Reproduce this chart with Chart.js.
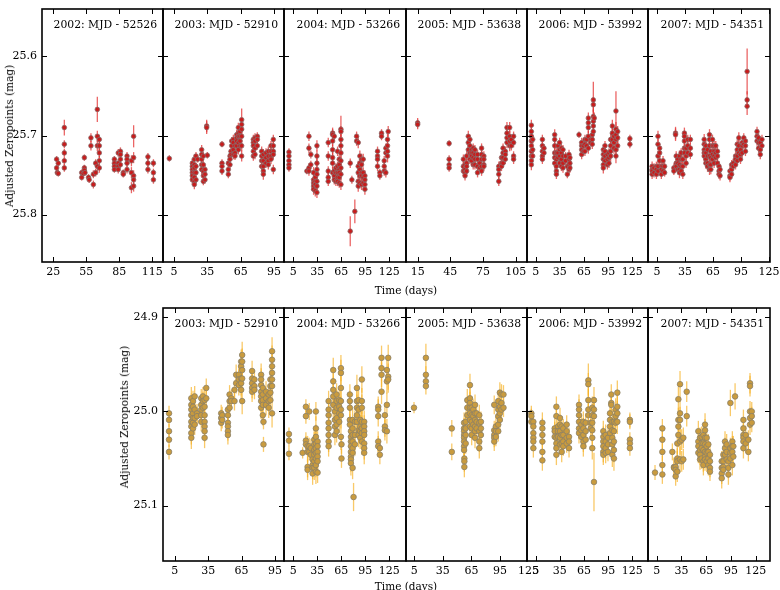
<!DOCTYPE html>
<html>
<head>
<meta charset="utf-8">
<script src="https://cdn.jsdelivr.net/npm/chart.js@4.4.0/dist/chart.umd.min.js"></script>
<style>
  body { margin: 0; background: #fff; }
  #page { position: relative; width: 780px; height: 590px; overflow: hidden; font-family: 'DejaVu Serif', serif; }
  #page canvas { position: absolute; }
  .axis-title { position: absolute; font-size: 10.5px; color: #000; white-space: nowrap; }
</style>
</head>
<body>
<div id="page"></div>
<script>
// each row: [day, error, zeropoint, zeropoint, ...] -- one night of frames
const top2002 = [
  [28, .004, 25.730, 25.741], [28.6, .004, 25.747], [29.5, .004, 25.735, 25.748],
  [35, .005, 25.711, 25.722, 25.732, 25.741], [35, .010, 25.690],
  [50.8, .004, 25.747, 25.753], [52.3, .004, 25.748], [53.2, .004, 25.728, 25.741, 25.744], [53.8, .004, 25.747],
  [57, .004, 25.753], [57.6, .004, 25.756], [59.2, .006, 25.703, 25.713], [61.4, .005, 25.749, 25.762],
  [63.5, .005, 25.735, 25.747], [65, .016, 25.667], [65, .007, 25.701, 25.713, 25.739],
  [66.8, .006, 25.705, 25.713, 25.722, 25.732, 25.741],
  [80.5, .004, 25.730, 25.735, 25.739, 25.743], [84, .005, 25.722, 25.735, 25.739, 25.743],
  [86, .005, 25.720, 25.724, 25.730, 25.737], [88.6, .004, 25.747, 25.749],
  [92, .005, 25.726, 25.730, 25.735, 25.743], [96, .007, 25.732, 25.747, 25.766],
  [98, .014, 25.701], [98, .007, 25.728, 25.751, 25.756, 25.764],
  [111, .005, 25.727, 25.735, 25.743], [116, .005, 25.735, 25.747, 25.756]
];
const top2003 = [
  [0.8, .004, 25.729],
  [21.5, .006, 25.735, 25.739, 25.743, 25.747, 25.751, 25.756],
  [23.3, .006, 25.730, 25.737, 25.741, 25.747, 25.753, 25.758, 25.762],
  [24.8, .005, 25.726, 25.739, 25.747, 25.756], [26.3, .004, 25.730],
  [29.9, .006, 25.718, 25.724, 25.730, 25.737, 25.743],
  [31.4, .005, 25.726, 25.737, 25.745, 25.751, 25.758],
  [32.9, .005, 25.743, 25.749, 25.756], [34.4, .008, 25.688, 25.690], [35, .004, 25.725],
  [48.2, .004, 25.711], [48.2, .005, 25.735, 25.739, 25.745],
  [53.9, .005, 25.735, 25.743, 25.749], [55.4, .005, 25.726, 25.730, 25.737], [56.3, .005, 25.720, 25.724],
  [56.9, .005, 25.707, 25.713], [58.4, .006, 25.705, 25.709, 25.718, 25.724], [59.9, .005, 25.713, 25.722, 25.726],
  [61.4, .006, 25.699, 25.703, 25.707, 25.713], [62.9, .006, 25.690, 25.697, 25.701, 25.709, 25.718],
  [64.4, .006, 25.695, 25.701, 25.707, 25.713], [65.9, .014, 25.680],
  [65.9, .007, 25.686, 25.692, 25.701, 25.713, 25.726],
  [76.4, .006, 25.705, 25.709, 25.713, 25.720, 25.726], [77.9, .006, 25.703, 25.707, 25.716, 25.724],
  [80, .005, 25.701, 25.705, 25.713],
  [83.9, .006, 25.720, 25.726, 25.732, 25.739], [85.4, .007, 25.724, 25.732, 25.739, 25.745, 25.749],
  [87.8, .006, 25.722, 25.728, 25.735], [89.9, .006, 25.720, 25.726, 25.732, 25.737],
  [92.3, .006, 25.713, 25.720, 25.726, 25.730], [94.4, .006, 25.705, 25.713, 25.720, 25.724, 25.743]
];
const top2004 = [
  [-0.4, .005, 25.721, 25.726, 25.732, 25.737, 25.741],
  [22, .004, 25.745], [24.6, .006, 25.701, 25.716, 25.741, 25.745], [27, .005, 25.724, 25.737],
  [30.4, .007, 25.747, 25.756, 25.760, 25.764, 25.768], [32.5, .007, 25.753, 25.758, 25.762, 25.770],
  [34.6, .007, 25.713, 25.726, 25.735, 25.743, 25.749, 25.758, 25.764, 25.772],
  [48.75, .006, 25.709, 25.726, 25.745, 25.753, 25.758],
  [54.2, .007, 25.697, 25.699, 25.707, 25.718, 25.728, 25.735, 25.747],
  [56.25, .006, 25.701, 25.745, 25.751, 25.756], [58.3, .006, 25.741, 25.747, 25.758],
  [60.4, .006, 25.720, 25.739, 25.747, 25.753, 25.758],
  [62.5, .006, 25.730, 25.737, 25.743, 25.747, 25.753, 25.760],
  [64.6, .017, 25.692], [64.6, .007, 25.695, 25.705, 25.713, 25.722, 25.732, 25.741, 25.749, 25.762],
  [76.25, .006, 25.735], [76.25, .019, 25.821], [78.3, .005, 25.756], [82, .015, 25.796],
  [84.2, .006, 25.701, 25.707], [86.25, .007, 25.709, 25.739, 25.747, 25.758, 25.764],
  [88.3, .007, 25.726, 25.735, 25.743, 25.751, 25.760], [90.4, .007, 25.730, 25.737, 25.747, 25.751, 25.762],
  [92.5, .007, 25.730, 25.747, 25.753, 25.760], [94.6, .007, 25.751, 25.756, 25.762, 25.768],
  [110.4, .006, 25.720, 25.726, 25.730, 25.739], [113.3, .005, 25.747, 25.751], [115.4, .005, 25.697, 25.701],
  [118.75, .006, 25.732, 25.739, 25.745], [120.8, .006, 25.716, 25.722, 25.747],
  [122.9, .008, 25.705, 25.713, 25.720, 25.726], [123.75, .007, 25.695]
];
const top2005 = [
  [15, .006, 25.684, 25.686], [43.9, .004, 25.710], [43.9, .005, 25.730, 25.737, 25.741],
  [57, .006, 25.730, 25.739, 25.745], [58.5, .006, 25.737, 25.743, 25.747, 25.751],
  [60, .006, 25.726, 25.735, 25.739, 25.745], [61.5, .007, 25.701, 25.709, 25.718],
  [63, .006, 25.705, 25.713, 25.722, 25.730], [64.5, .006, 25.718, 25.722, 25.726, 25.732],
  [66, .006, 25.716, 25.722, 25.728, 25.737], [67.6, .006, 25.718, 25.724, 25.730, 25.737],
  [70, .006, 25.724, 25.730, 25.739, 25.747], [72, .005, 25.735, 25.741],
  [73.7, .006, 25.716, 25.724, 25.730, 25.739, 25.745], [75.8, .006, 25.726, 25.730, 25.737, 25.739],
  [89.5, .006, 25.739, 25.743, 25.749, 25.758], [92, .006, 25.728, 25.735, 25.739],
  [93.4, .006, 25.716, 25.722, 25.728, 25.735], [95.5, .006, 25.720, 25.724, 25.730],
  [97, .007, 25.690, 25.697, 25.703, 25.709], [99.5, .007, 25.690, 25.701, 25.707, 25.713],
  [101, .006, 25.705, 25.713], [103.1, .006, 25.701, 25.709, 25.726, 25.730]
];
const top2006 = [
  [-0.4, .007, 25.687, 25.695, 25.701, 25.707, 25.713, 25.720, 25.726, 25.732, 25.737],
  [1.3, .006, 25.705, 25.718, 25.726],
  [13.3, .006, 25.705, 25.713, 25.720, 25.726, 25.730], [15.3, .005, 25.716, 25.722],
  [28.6, .007, 25.699, 25.705, 25.713, 25.722, 25.728, 25.735], [30.7, .006, 25.722, 25.730, 25.739, 25.745, 25.749],
  [32.7, .006, 25.713, 25.722, 25.728], [34.8, .006, 25.709, 25.718, 25.726, 25.735],
  [36.9, .006, 25.716, 25.722, 25.730, 25.739], [38.9, .006, 25.718, 25.726, 25.735, 25.741],
  [42.2, .005, 25.726, 25.732], [44.3, .005, 25.739, 25.749], [46.4, .006, 25.724, 25.730, 25.737, 25.743],
  [47.5, .006, 25.728, 25.735, 25.741],
  [58.8, .004, 25.699], [62.1, .006, 25.709, 25.713, 25.718, 25.724], [64.2, .005, 25.713, 25.720],
  [66.2, .006, 25.705, 25.711, 25.720], [68.3, .005, 25.705, 25.713],
  [70.4, .007, 25.678, 25.684, 25.690, 25.701, 25.716], [73.3, .005, 25.705, 25.709],
  [75.3, .006, 25.699, 25.705, 25.711], [76.6, .023, 25.655],
  [76.6, .009, 25.661, 25.676, 25.682, 25.688, 25.695], [77.8, .007, 25.678],
  [89, .007, 25.718, 25.724, 25.730, 25.737, 25.741], [91.1, .006, 25.713, 25.720, 25.726, 25.732],
  [94, .006, 25.724, 25.730, 25.737], [96, .006, 25.722, 25.728, 25.735],
  [98.1, .007, 25.705, 25.713, 25.720, 25.726], [100.2, .008, 25.688, 25.697, 25.705],
  [102.2, .007, 25.701, 25.709, 25.716], [104.7, .025, 25.669],
  [104.7, .009, 25.692, 25.699, 25.705, 25.718, 25.726], [106.8, .007, 25.695, 25.703, 25.713],
  [122, .005, 25.704, 25.711]
];
const top2007 = [
  [-0.3, .006, 25.739, 25.743, 25.745, 25.749], [1.8, .006, 25.741, 25.747], [4.3, .006, 25.739, 25.743, 25.749],
  [6, .007, 25.701, 25.711, 25.726, 25.739, 25.745], [7.8, .006, 25.716, 25.722, 25.732],
  [9.6, .006, 25.739, 25.743, 25.749], [11.4, .006, 25.732, 25.739, 25.745], [13.1, .005, 25.739, 25.747],
  [23, .005, 25.741, 25.745], [24.8, .008, 25.697, 25.699], [25.5, .006, 25.726, 25.735, 25.739],
  [27.3, .006, 25.730, 25.735, 25.743], [29, .007, 25.726, 25.737, 25.743, 25.747],
  [30.8, .006, 25.722, 25.730, 25.739, 25.745], [32.6, .006, 25.730, 25.739, 25.749],
  [34.3, .007, 25.697, 25.701, 25.707, 25.716, 25.722], [36.1, .006, 25.716, 25.726, 25.735],
  [37.9, .006, 25.705, 25.713, 25.722], [40.7, .006, 25.705, 25.716, 25.724],
  [55.5, .007, 25.705, 25.711, 25.718, 25.722, 25.726], [57.3, .007, 25.713, 25.722, 25.730, 25.735],
  [59.1, .007, 25.718, 25.726, 25.735, 25.739], [61.2, .007, 25.699, 25.705, 25.713, 25.726, 25.737, 25.743],
  [62.6, .006, 25.720, 25.728, 25.737, 25.743], [64.4, .006, 25.705, 25.713, 25.724, 25.730],
  [66.1, .006, 25.713, 25.720, 25.726, 25.735], [67.9, .006, 25.713, 25.722, 25.728],
  [69.7, .006, 25.720, 25.726, 25.735], [71.4, .006, 25.739, 25.745, 25.749], [72.5, .006, 25.743, 25.751],
  [83.1, .006, 25.745, 25.751, 25.753], [84.9, .006, 25.737, 25.743, 25.749], [86.6, .006, 25.735, 25.739],
  [89.1, .006, 25.726, 25.730, 25.737], [90.9, .006, 25.711, 25.718, 25.726, 25.732],
  [92.6, .007, 25.703, 25.713, 25.722], [94.4, .006, 25.718, 25.724, 25.730],
  [96.2, .006, 25.709, 25.713, 25.722], [97.9, .006, 25.703, 25.711], [99.7, .006, 25.707, 25.713, 25.720],
  [101.5, .029, 25.619], [101.5, .011, 25.655, 25.663],
  [112.1, .006, 25.695, 25.701, 25.707], [113.8, .006, 25.703, 25.709, 25.716],
  [115.6, .006, 25.709, 25.718, 25.724], [117.4, .006, 25.705, 25.713]
];

const bot2003 = [
  [-0.1, .008, 25.002, 25.009, 25.021, 25.030, 25.043],
  [19.9, .012, 24.986, 24.993, 24.998, 25.004, 25.011, 25.016, 25.023, 25.028],
  [21.4, .011, 24.989, 24.995, 25.002, 25.007, 25.012, 25.018], [22.9, .011, 24.984, 24.998, 25.007, 25.014],
  [25, .010, 25.002, 25.005], [28.8, .010, 24.986, 24.993, 24.998, 25.004, 25.011],
  [30.3, .010, 24.984, 24.989, 24.996], [31.8, .011, 24.988, 24.995, 25.004, 25.011, 25.016, 25.021, 25.028],
  [33.3, .010, 24.975, 24.986],
  [46.7, .009, 25.002, 25.007, 25.012], [47.6, .009, 25.004, 25.009],
  [52.7, .010, 24.998, 25.004, 25.012, 25.016, 25.021, 25.025], [54.2, .010, 24.982, 24.989, 24.996],
  [55.7, .009, 24.986, 24.989], [58.6, .010, 24.977, 24.989],
  [60.1, .011, 24.961, 24.970], [62.5, .011, 24.961, 24.966, 24.972],
  [64.6, .013, 24.947, 24.952, 24.965, 24.970, 24.977], [65.5, .014, 24.940, 24.947, 24.956, 24.965, 24.989],
  [74.4, .011, 24.957, 24.965, 24.970, 24.975, 24.979], [76.5, .010, 24.966, 24.973, 24.977],
  [82.5, .012, 24.961, 24.966, 24.972, 24.979, 24.984, 24.989, 24.996],
  [84, .011, 24.975, 24.982, 24.988, 24.993, 25.004], [84.6, .008, 25.011, 25.035],
  [86.9, .011, 24.979, 24.986, 24.993], [89.3, .011, 24.982, 24.989, 24.996],
  [90.8, .011, 24.966, 24.973, 24.980, 24.988],
  [92.3, .015, 24.936, 24.945, 24.952, 24.959, 24.966, 24.973, 25.002]
];
const bot2004 = [
  [-0.4, .007, 25.024, 25.031, 25.045], [16.7, .006, 25.044], [20.8, .008, 24.995, 25.005],
  [20.8, .009, 25.031, 25.035], [22.9, .011, 25.037, 25.043, 25.059, 25.062],
  [25, .009, 25.000, 25.037, 25.043], [27, .010, 25.039, 25.046],
  [29.2, .012, 25.051, 25.057, 25.060, 25.066], [31.25, .013, 25.030, 25.035, 25.041, 25.046, 25.053, 25.060],
  [33.3, .013, 25.018, 25.027, 25.034, 25.039, 25.044, 25.050, 25.057, 25.064],
  [35.4, .011, 25.032, 25.037, 25.043, 25.048, 25.053, 25.065], [33.3, .010, 25.000],
  [49.2, .011, 24.989, 24.998, 25.004, 25.012, 25.018, 25.025, 25.032, 25.037],
  [55, .013, 24.956, 24.968, 24.977, 24.984, 24.993], [57.1, .011, 25.000, 25.009, 25.016, 25.025],
  [59.2, .012, 24.982, 24.989, 24.996, 25.007, 25.014, 25.021], [62.5, .012, 24.988, 24.995, 25.002, 25.011],
  [64.6, .014, 24.954, 24.959, 24.975, 24.989, 24.998, 25.004, 25.027], [65.3, .010, 25.035, 25.050],
  [75.8, .011, 24.982, 24.989, 24.996, 25.009, 25.014],
  [77.1, .013, 25.021, 25.027, 25.032, 25.037, 25.043, 25.048, 25.051, 25.055],
  [79.2, .012, 25.009, 25.018, 25.025, 25.032, 25.039, 25.044, 25.060], [80.4, .015, 25.091],
  [82.1, .012, 25.011, 25.025, 25.035], [84.6, .014, 24.975, 24.989, 24.996, 25.004, 25.011],
  [86.7, .013, 24.988, 24.998, 25.020, 25.025], [88.75, .012, 25.009, 25.016, 25.021, 25.028],
  [90.8, .014, 24.966, 24.989, 24.996, 25.011, 25.018, 25.023, 25.032],
  [93.75, .012, 25.011, 25.016, 25.021, 25.025, 25.034, 25.039, 25.044],
  [111.25, .011, 24.995, 24.998, 25.005, 25.032, 25.037], [113.3, .010, 25.039, 25.046],
  [115.4, .013, 24.943, 24.954, 24.961, 24.979], [119.6, .011, 25.004, 25.016, 25.020],
  [122.1, .013, 24.956, 24.968, 24.993, 25.021], [123.75, .014, 24.943, 24.963, 24.966]
];
const bot2005 = [
  [4.7, .006, 24.996], [17.2, .015, 24.943], [17.2, .009, 24.961, 24.968, 24.973], [44.4, .009, 25.018, 25.043],
  [57.3, .011, 25.012, 25.018, 25.021, 25.025, 25.028, 25.032, 25.037, 25.041],
  [57.6, .011, 25.050, 25.053, 25.059], [59, .011, 25.011, 25.018, 25.025, 25.034],
  [60.7, .012, 24.988, 24.996, 25.004], [63.5, .012, 24.972, 24.986, 24.991, 24.996, 25.002, 25.009, 25.016],
  [65.3, .011, 24.996, 25.004, 25.011, 25.018, 25.025], [67, .011, 24.998, 25.005, 25.014],
  [68.8, .011, 24.993, 25.002, 25.009, 25.016, 25.021, 25.028], [70.5, .011, 25.002, 25.011, 25.018],
  [73.3, .011, 25.004, 25.012, 25.021, 25.032, 25.039], [75, .011, 25.011, 25.018, 25.025],
  [89, .010, 24.993, 25.020, 25.025, 25.028, 25.032], [90.7, .010, 25.016, 25.021, 25.027],
  [93.2, .011, 24.989, 24.998, 25.005, 25.014, 25.021], [94.9, .011, 24.980, 24.995, 25.002, 25.009],
  [96.6, .011, 24.982, 24.991, 24.998], [98.7, .010, 24.982, 24.996]
];
const bot2006 = [
  [-0.4, .008, 25.002, 25.005, 25.011], [2.1, .010, 25.011, 25.016, 25.023, 25.028, 25.032, 25.039],
  [13.3, .011, 25.012, 25.018, 25.025, 25.032, 25.043, 25.052],
  [28.6, .010, 25.018, 25.021, 25.027], [30.7, .011, 24.995, 25.005, 25.028, 25.034, 25.039, 25.046],
  [32.7, .010, 25.016, 25.021, 25.027], [35.2, .011, 25.007, 25.014, 25.021, 25.028, 25.035],
  [37.3, .011, 25.016, 25.025, 25.034, 25.043], [39.3, .010, 25.018, 25.025, 25.032, 25.037],
  [43.5, .010, 25.014, 25.021, 25.028, 25.034], [46.4, .010, 25.027, 25.032, 25.039],
  [58.8, .011, 24.993, 24.998, 25.004, 25.011, 25.018, 25.023], [61.7, .010, 25.014, 25.020, 25.027],
  [64.2, .011, 25.011, 25.018, 25.025, 25.032, 25.037], [67.1, .010, 25.012, 25.021, 25.030],
  [70.4, .018, 24.967], [70.4, .012, 24.971, 24.988, 24.998, 25.004], [73.3, .010, 25.012, 25.018],
  [75.3, .012, 24.996, 25.004, 25.012, 25.020, 25.028, 25.039], [77.4, .014, 24.988, 24.998, 25.005],
  [77.4, .031, 25.075],
  [89, .011, 25.021, 25.027, 25.032, 25.037, 25.043, 25.046], [91.9, .011, 25.025, 25.032, 25.039, 25.044],
  [94.8, .010, 25.028, 25.035, 25.043], [97.3, .011, 25.002, 25.009, 25.016, 25.023],
  [98.9, .011, 24.982, 24.991, 24.993], [100.2, .013, 25.011, 25.020, 25.028, 25.035, 25.046],
  [102.2, .013, 25.011, 25.021, 25.032, 25.041, 25.050], [104.3, .012, 24.998, 25.005, 25.012],
  [106.4, .013, 24.980, 24.995, 25.002, 25.011], [122, .008, 25.009, 25.011, 25.030, 25.034, 25.039]
];
const bot2007 = [
  [3, .008, 25.065], [11.9, .010, 25.018, 25.030, 25.043, 25.057, 25.067],
  [24, .009, 25.043], [26, .010, 25.059, 25.060], [28, .010, 25.059, 25.062, 25.069],
  [30, .011, 25.034, 25.050, 25.053, 25.064], [31.3, .013, 24.987, 25.009, 25.016, 25.025],
  [33.3, .014, 24.971, 25.002, 25.009, 25.032, 25.051], [35.3, .011, 25.030, 25.053],
  [37.3, .011, 25.028, 25.051], [41.4, .011, 24.979, 25.005],
  [55.5, .011, 25.021, 25.032, 25.037, 25.044], [57.5, .011, 25.028, 25.041, 25.046, 25.051],
  [59.5, .011, 25.027, 25.034, 25.039, 25.050], [61.6, .011, 25.025, 25.034, 25.041, 25.053, 25.057],
  [63.6, .012, 25.014, 25.020, 25.028, 25.035, 25.043, 25.048, 25.051],
  [65.6, .011, 25.028, 25.037, 25.044, 25.053], [67.6, .011, 25.035, 25.043, 25.050, 25.057],
  [69.6, .010, 25.046, 25.053, 25.060, 25.064],
  [83.8, .011, 25.053, 25.060, 25.066, 25.071], [85.8, .011, 25.046, 25.053, 25.059, 25.062],
  [87.8, .011, 25.032, 25.039, 25.046], [89.8, .011, 25.035, 25.043, 25.051],
  [91.9, .011, 25.053, 25.060, 25.067], [94.3, .014, 24.991], [94.3, .011, 25.039, 25.044, 25.050],
  [96.7, .011, 25.032, 25.037, 25.043, 25.057], [97.9, .011, 25.037, 25.048], [100, .014, 24.984],
  [110.1, .011, 25.009, 25.018, 25.025, 25.028, 25.032, 25.039], [112.9, .010, 25.025, 25.034],
  [116.1, .010, 25.030, 25.043], [118.1, .011, 24.970, 24.973, 25.000, 25.007, 25.014],
  [120.2, .010, 25.000, 25.005, 25.012]
];

const topTitles = ['2002: MJD - 52526', '2003: MJD - 52910', '2004: MJD - 53266',
                   '2005: MJD - 53638', '2006: MJD - 53992', '2007: MJD - 54351'];
const botTitles = ['2003: MJD - 52910', '2004: MJD - 53266', '2005: MJD - 53638',
                   '2006: MJD - 53992', '2007: MJD - 54351'];
const topXTicks = [[25, 55, 85, 115], [5, 35, 65, 95], [5, 35, 65, 95, 125],
                   [15, 45, 75, 105], [5, 35, 65, 95, 125], [5, 35, 65, 95, 125]];
const botXTicks = [[5, 35, 65, 95], [5, 35, 65, 95, 125], [5, 35, 65, 95, 125],
                   [5, 35, 65, 95, 125], [5, 35, 65, 95, 125]];
const topXRange = [[14.7, 124.7], [-4.9, 104], [-6.6, 146], [4.3, 115.4], [-5.8, 144.5], [-4.7, 126]];
const botXRange = [[-5.5, 103], [-6.6, 146], [-3.7, 123.4], [-5.8, 144.5], [-5.5, 142.3]];
const topYTicks = [25.6, 25.7, 25.8];
const botYTicks = [24.9, 25.0, 25.1];
const topYRange = [25.54, 25.86];
const botYRange = [24.89, 25.159];

const topSeries = [top2002, top2003, top2004, top2005, top2006, top2007];
const botSeries = [bot2003, bot2004, bot2005, bot2006, bot2007];

// page layout
const topEdges = [42, 163, 284, 406, 527, 648, 770];
const botEdges = [163, 284, 406, 527, 648, 770];
const TOP_ROW = { top: 9, bottom: 262 };
const BOT_ROW = { top: 308, bottom: 561 };
const PAD_L = 40, PAD_T = 6, PAD_R = 22, PAD_B = 26;
const FONT = "'DejaVu Serif', serif";

const page = document.getElementById('page');

function toPoints(rows) {
    const pts = [];
    rows.forEach(([day, err, ...mags]) => mags.forEach(m => pts.push({ x: day, y: m, e: err })));
    return pts;
}

const errorBars = {
    id: 'errorBars',
    beforeDatasetsDraw(chart, args, opts) {
        const { ctx, chartArea: a, scales: { x, y } } = chart;
        ctx.save();
        ctx.beginPath();
        ctx.rect(a.left, a.top, a.width, a.height);
        ctx.clip();
        ctx.strokeStyle = opts.color;
        ctx.lineWidth = 1.3;
        chart.data.datasets[0].data.forEach(p => {
            const px = x.getPixelForValue(p.x);
            ctx.beginPath();
            ctx.moveTo(px, y.getPixelForValue(p.y - p.e));
            ctx.lineTo(px, y.getPixelForValue(p.y + p.e));
            ctx.stroke();
        });
        ctx.restore();
    }
};

const frame = {
    id: 'frame',
    afterDraw(chart, args, opts) {
        const { ctx, chartArea: a, scales: { x, y } } = chart;
        ctx.save();
        ctx.strokeStyle = '#000';
        ctx.lineWidth = 1;
        ctx.beginPath();
        x.ticks.forEach(t => {
            if (t.value < x.min || t.value > x.max) return;
            const px = Math.round(x.getPixelForValue(t.value)) + 0.5;
            ctx.moveTo(px, a.bottom); ctx.lineTo(px, a.bottom - 5);
            ctx.moveTo(px, a.top); ctx.lineTo(px, a.top + 5);
        });
        y.ticks.forEach(t => {
            const py = Math.round(y.getPixelForValue(t.value)) + 0.5;
            ctx.moveTo(a.left, py); ctx.lineTo(a.left + 5, py);
            ctx.moveTo(a.right, py); ctx.lineTo(a.right - 5, py);
        });
        ctx.stroke();
        ctx.lineWidth = 1.6;
        ctx.strokeRect(a.left, a.top, a.width, a.height);
        ctx.fillStyle = '#000';
        ctx.font = '10.8px ' + FONT;
        ctx.textAlign = 'right';
        ctx.textBaseline = 'middle';
        ctx.fillText(opts.title, a.right - 6, a.top + 16);
        ctx.restore();
    }
};

function makePanel(rows, left, right, row, xRange, xTicks, yRange, yTicks, title, showY, look) {
    const cv = document.createElement('canvas');
    cv.width = right - left + PAD_L + PAD_R;
    cv.height = row.bottom - row.top + PAD_T + PAD_B;
    cv.style.left = (left - PAD_L) + 'px';
    cv.style.top = (row.top - PAD_T) + 'px';
    page.appendChild(cv);

    new Chart(cv, {
        type: 'scatter',
        data: {
            datasets: [{
                data: toPoints(rows),
                pointRadius: look.radius,
                pointBackgroundColor: look.fill,
                pointBorderColor: look.edge,
                pointBorderWidth: 0.8,
            }],
        },
        options: {
            responsive: false,
            animation: false,
            events: [],
            layout: { autoPadding: false, padding: { top: PAD_T, right: PAD_R, left: 0, bottom: 0 } },
            plugins: {
                legend: { display: false },
                tooltip: { enabled: false },
                errorBars: { color: look.err },
                frame: { title },
            },
            scales: {
                x: {
                    type: 'linear',
                    min: xRange[0], max: xRange[1],
                    grid: { display: false, drawTicks: false },
                    border: { display: false },
                    afterBuildTicks: s => { s.ticks = xTicks.map(v => ({ value: v })); },
                    afterFit: s => { s.height = PAD_B; s.paddingLeft = 0; s.paddingRight = 0; },
                    ticks: { color: '#000', font: { family: FONT, size: 11 }, padding: 4,
                             maxRotation: 0, autoSkip: false, callback: v => String(v) },
                },
                y: {
                    type: 'linear',
                    reverse: true,
                    min: yRange[0], max: yRange[1],
                    grid: { display: false, drawTicks: false },
                    border: { display: false },
                    afterBuildTicks: s => { s.ticks = yTicks.map(v => ({ value: v })); },
                    afterFit: s => { s.width = PAD_L; s.paddingTop = 0; s.paddingBottom = 0; },
                    ticks: { display: showY, color: '#000', font: { family: FONT, size: 11 }, padding: 5,
                             callback: v => v.toFixed(1) },
                },
            },
        },
        plugins: [errorBars, frame],
    });
}

const redLook = { radius: 2.3, fill: '#c81c1c', edge: '#8a6a6a', err: 'rgba(228,50,50,0.75)' };
const goldLook = { radius: 2.8, fill: '#c99b3e', edge: '#8a8068', err: 'rgba(246,178,40,0.7)' };

topSeries.forEach((rows, i) => {
    makePanel(rows, topEdges[i], topEdges[i + 1], TOP_ROW, topXRange[i], topXTicks[i],
              topYRange, topYTicks, topTitles[i], i === 0, redLook);
});
botSeries.forEach((rows, i) => {
    makePanel(rows, botEdges[i], botEdges[i + 1], BOT_ROW, botXRange[i], botXTicks[i],
              botYRange, botYTicks, botTitles[i], i === 0, goldLook);
});

function axisTitle(text, cx, cy, vertical) {
    const d = document.createElement('div');
    d.className = 'axis-title';
    d.textContent = text;
    d.style.left = cx + 'px';
    d.style.top = cy + 'px';
    d.style.transform = 'translate(-50%, -50%)' + (vertical ? ' rotate(-90deg)' : '');
    page.appendChild(d);
}
axisTitle('Adjusted Zeropoints (mag)', 9, 136, true);
axisTitle('Time (days)', 406, 290, false);
axisTitle('Adjusted Zeropoints (mag)', 124, 417, true);
axisTitle('Time (days)', 406, 586, false);
</script>
</body>
</html>
